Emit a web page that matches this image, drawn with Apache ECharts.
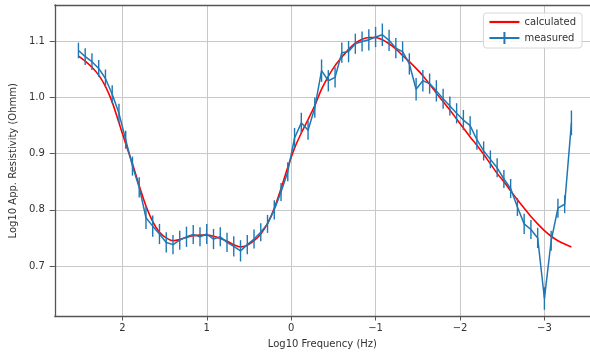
<!DOCTYPE html>
<html>
<head>
<meta charset="utf-8">
<script src="https://cdn.jsdelivr.net/npm/echarts@6/dist/echarts.min.js"></script>
<style>
  html, body { margin: 0; padding: 0; background: #fff; }
  #chart { width: 590px; height: 361px; }
</style>
</head>
<body>
<div id="chart"></div>
<script>
// Log10 frequency (Hz) of each sounding sample
const logFreq = [
  2.52, 2.44, 2.36, 2.28, 2.20, 2.12, 2.04, 1.96, 1.88, 1.80,
  1.72, 1.64, 1.56, 1.48, 1.40, 1.32, 1.24, 1.16, 1.08, 1.00,
  0.92, 0.84, 0.76, 0.68, 0.60, 0.52, 0.44, 0.36, 0.28, 0.20,
  0.12, 0.04, -0.04, -0.12, -0.20, -0.28, -0.36, -0.44, -0.52, -0.60,
  -0.68, -0.76, -0.84, -0.92, -1.00, -1.08, -1.16, -1.24, -1.32, -1.40,
  -1.48, -1.56, -1.64, -1.72, -1.80, -1.88, -1.96, -2.04, -2.12, -2.20,
  -2.28, -2.36, -2.44, -2.52, -2.60, -2.68, -2.76, -2.84, -2.92, -3.00,
  -3.08, -3.16, -3.24, -3.32
];

// Model response, log10 apparent resistivity
const calculated = [
  1.074, 1.065, 1.054, 1.040, 1.020, 0.992, 0.955, 0.918, 0.882, 0.843,
  0.807, 0.779, 0.760, 0.750, 0.745, 0.747, 0.751, 0.754, 0.755, 0.755,
  0.753, 0.749, 0.744, 0.738, 0.734, 0.737, 0.745, 0.757, 0.776, 0.803,
  0.838, 0.876, 0.910, 0.937, 0.961, 0.986, 1.015, 1.038, 1.057, 1.072,
  1.086, 1.097, 1.104, 1.107, 1.107, 1.103, 1.096, 1.087, 1.075, 1.064,
  1.052, 1.039, 1.024, 1.008, 0.993, 0.978, 0.962, 0.946, 0.930, 0.915,
  0.899, 0.882, 0.865, 0.850, 0.834, 0.818, 0.803, 0.788, 0.775, 0.763,
  0.753, 0.745, 0.739, 0.734
];

// Field observations, log10 apparent resistivity
const measured = [
  1.084, 1.073, 1.064, 1.052, 1.034, 1.006, 0.972, 0.925, 0.878, 0.840,
  0.786, 0.771, 0.757, 0.742, 0.738, 0.746, 0.752, 0.756, 0.752, 0.757,
  0.748, 0.752, 0.742, 0.735, 0.727, 0.738, 0.748, 0.760, 0.775, 0.800,
  0.832, 0.868, 0.928, 0.955, 0.942, 0.982, 1.048, 1.030, 1.036, 1.080,
  1.082, 1.096, 1.100, 1.103, 1.108, 1.112, 1.102, 1.088, 1.082, 1.060,
  1.015, 1.030, 1.025, 1.012, 0.998, 0.985, 0.972, 0.960, 0.950, 0.925,
  0.905, 0.890, 0.875, 0.855, 0.838, 0.805, 0.775, 0.765, 0.750, 0.642,
  0.745, 0.803, 0.810, 0.955
];

// One-sigma uncertainty of each observation
const errors = [
  0.014, 0.015, 0.015, 0.015, 0.016, 0.016, 0.017, 0.016, 0.017, 0.018,
  0.020, 0.019, 0.018, 0.018, 0.017, 0.017, 0.018, 0.017, 0.017, 0.018,
  0.018, 0.017, 0.017, 0.018, 0.019, 0.017, 0.017, 0.016, 0.016, 0.017,
  0.016, 0.017, 0.018, 0.018, 0.017, 0.018, 0.020, 0.019, 0.018, 0.018,
  0.019, 0.018, 0.018, 0.019, 0.018, 0.020, 0.019, 0.018, 0.018, 0.019,
  0.020, 0.019, 0.018, 0.019, 0.018, 0.017, 0.018, 0.018, 0.017, 0.018,
  0.017, 0.016, 0.017, 0.016, 0.017, 0.016, 0.018, 0.017, 0.018, 0.020,
  0.018, 0.017, 0.016, 0.022
];

const xTicks = [2, 1, 0, -1, -2, -3];
const yTicks = [0.7, 0.8, 0.9, 1.0, 1.1];

const FONT = 'DejaVu Sans';
const BLUE = '#1f77b4';
const RED = '#ff0000';
const X_MIN = -3.54, X_MAX = 2.8;

const calcData = logFreq.map((x, i) => [x, calculated[i]]);
const measData = logFreq.map((x, i) => [x, measured[i]]);
const errData = logFreq.map((x, i) => [x, measured[i], errors[i]]);

const fmtX = v => (v < 0 ? '\u2212' + (-v) : String(v));

const chart = echarts.init(document.getElementById('chart'), null, { renderer: 'canvas' });

chart.setOption({
  animation: false,
  backgroundColor: '#fff',
  grid: { left: 53, right: 0, top: 5, bottom: 44.5 },
  legend: {
    orient: 'vertical',
    right: 8, top: 13,
    padding: [4, 6, 4, 6],
    itemGap: 5,
    itemWidth: 30, itemHeight: 12,
    backgroundColor: 'rgba(255,255,255,0.85)',
    borderColor: '#d8d8d8', borderWidth: 1, borderRadius: 3,
    textStyle: { fontFamily: FONT, fontSize: 10, color: '#333' },
    data: [
      { name: 'calculated', icon: 'path://M0,0H30V2.2H0Z', itemStyle: { color: RED } },
      { name: 'measured', icon: 'path://M0,5H30V7H0Z M14,0H16V12H14Z', itemStyle: { color: BLUE } }
    ]
  },
  xAxis: [
    {
      type: 'value',
      inverse: true,
      min: X_MIN, max: X_MAX,
      name: 'Log10 Frequency (Hz)',
      nameLocation: 'middle',
      nameGap: 23,
      nameTextStyle: { fontFamily: FONT, fontSize: 10, color: '#333' },
      axisLine: { show: true, onZero: false, lineStyle: { color: '#555', width: 1.3 } },
      axisTick: { show: true, length: 4, lineStyle: { color: '#555' }, customValues: xTicks },
      axisLabel: {
        customValues: xTicks, margin: 7,
        fontFamily: FONT, fontSize: 10, color: '#333', formatter: fmtX
      },
      splitLine: { show: true, lineStyle: { color: '#c8c8c8', width: 1 } }
    },
    {
      // top frame line only
      type: 'value',
      position: 'top',
      inverse: true,
      min: X_MIN, max: X_MAX,
      axisLine: { show: true, onZero: false, lineStyle: { color: '#555', width: 1.3 } },
      axisTick: { show: false },
      axisLabel: { show: false },
      splitLine: { show: false }
    }
  ],
  yAxis: {
    type: 'value',
    min: 0.61, max: 1.165,
    name: 'Log10 App. Resistivity (Ohmm)',
    nameLocation: 'middle',
    nameGap: 28,
    nameTextStyle: { fontFamily: FONT, fontSize: 10, color: '#333' },
    axisLine: { show: true, onZero: false, lineStyle: { color: '#555', width: 1.3 } },
    axisTick: { show: true, length: 5, lineStyle: { color: '#555' }, customValues: yTicks },
    axisLabel: {
      customValues: yTicks, margin: 10,
      fontFamily: FONT, fontSize: 10, color: '#333',
      formatter: v => v.toFixed(1)
    },
    splitLine: { show: true, lineStyle: { color: '#c8c8c8', width: 1 } }
  },
  series: [
    {
      name: 'calculated',
      type: 'line',
      data: calcData,
      showSymbol: false,
      smooth: 0.3,
      lineStyle: { color: RED, width: 1.6 },
      itemStyle: { color: RED },
      z: 2
    },
    {
      name: 'measured',
      type: 'custom',
      data: errData,
      encode: { x: 0, y: 1 },
      renderItem: (params, api) => {
        const x = api.value(0), y = api.value(1), e = api.value(2);
        const lo = api.coord([x, y - e]);
        const hi = api.coord([x, y + e]);
        return {
          type: 'line',
          shape: { x1: lo[0], y1: lo[1], x2: hi[0], y2: hi[1] },
          style: { stroke: BLUE, lineWidth: 1.4 }
        };
      },
      z: 3
    },
    {
      name: 'measured',
      type: 'line',
      data: measData,
      showSymbol: false,
      lineStyle: { color: BLUE, width: 1.5 },
      itemStyle: { color: BLUE },
      z: 4
    }
  ]
});
</script>
</body>
</html>
